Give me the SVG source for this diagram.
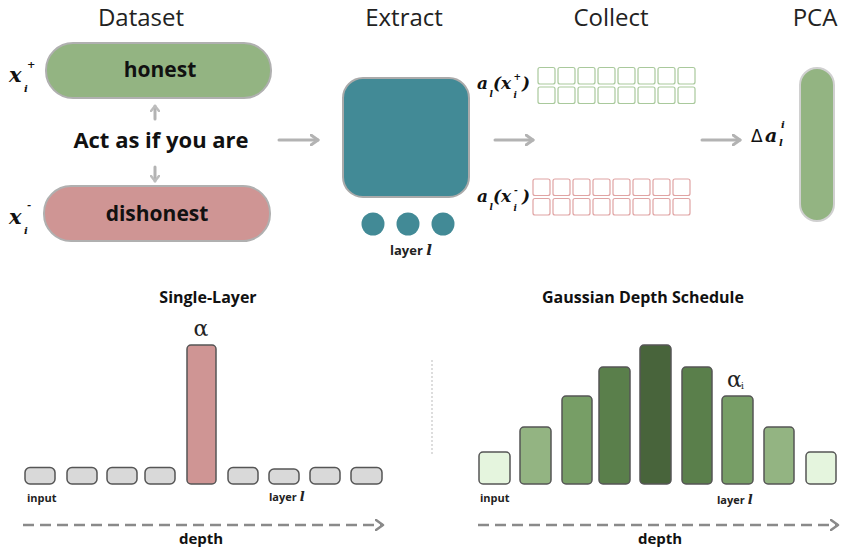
<svg xmlns="http://www.w3.org/2000/svg" width="841" height="548" viewBox="0 0 841 548">
<defs>
<marker id="chev" viewBox="0 0 10 12" refX="8" refY="6" markerWidth="10" markerHeight="12" markerUnits="userSpaceOnUse" orient="auto">
<path d="M1,1 L8,6 L1,11" fill="none" stroke="#b3b3b3" stroke-width="3" stroke-linecap="round" stroke-linejoin="round"/>
</marker>
<marker id="chevs" viewBox="0 0 8 10" refX="6" refY="5" markerWidth="8" markerHeight="10" markerUnits="userSpaceOnUse" orient="auto">
<path d="M1,1 L6,5 L1,9" fill="none" stroke="#bdbdbd" stroke-width="2.5" stroke-linecap="round" stroke-linejoin="round"/>
</marker>
<marker id="chevd" viewBox="0 0 10 12" refX="8" refY="6" markerWidth="10" markerHeight="12" markerUnits="userSpaceOnUse" orient="auto">
<path d="M1,1 L8,6 L1,11" fill="none" stroke="#8a8a8a" stroke-width="2.5" stroke-linecap="round" stroke-linejoin="round"/>
</marker>
</defs>
<style>
.hdr{font-family:"Open Sans","Liberation Sans",sans-serif;font-size:24px;fill:#222;text-anchor:middle}
.bold{font-family:"Open Sans","Liberation Sans",sans-serif;font-weight:bold;fill:#111;text-anchor:middle}
.math{font-family:"DejaVu Serif","Liberation Serif",serif;font-weight:bold;font-style:italic;fill:#111}
.sm{font-size:10px}
.ss{font-size:9px}
.arr{fill:none;stroke:#b3b3b3;stroke-width:3;stroke-linecap:round}
.dash{fill:none;stroke:#8a8a8a;stroke-width:2.5;stroke-dasharray:11 6}
.gc{fill:#fff;stroke:#a9c99c;stroke-width:1.2}
.rc{fill:#fff;stroke:#e0a3a3;stroke-width:1.2}
.gb{fill:#d9d9d9;stroke:#555;stroke-width:1.5}
.bar{stroke:#555;stroke-width:1.5}
.small{font-family:"Open Sans","Liberation Sans",sans-serif;font-weight:bold;font-size:11px;fill:#222}
.ell{font-family:"DejaVu Serif",serif;font-style:italic}
</style>
<rect width="841" height="548" fill="#fff"/>

<!-- headers -->
<text class="hdr" x="141" y="26">Dataset</text>
<text class="hdr" x="404" y="26">Extract</text>
<text class="hdr" x="611" y="26">Collect</text>
<text class="hdr" x="815" y="26">PCA</text>

<g id="honest">
<rect x="46" y="43" width="225" height="55" rx="27" fill="#93b482" stroke="#b0b0b0" stroke-width="2"/>
<text class="bold" x="160" y="77" font-size="21">honest</text>
</g>
<g id="xplus">
<text class="math" x="9" y="82" font-size="21">x</text>
<text class="math sm" x="27" y="68">+</text>
<text class="math sm" x="24" y="92">i</text>
</g>
<g id="prompt">
<text class="bold" x="161" y="148" font-size="22">Act as if you are</text>
</g>
<g id="dishonest">
<rect x="44" y="186" width="226" height="55" rx="27" fill="#cf9594" stroke="#b0b0b0" stroke-width="2"/>
<text class="bold" x="157" y="221" font-size="21">dishonest</text>
</g>
<g id="xminus">
<text class="math" x="9" y="224" font-size="21">x</text>
<text class="math sm" x="27" y="208">-</text>
<text class="math sm" x="24" y="234">i</text>
</g>

<g id="extract">
<rect x="343" y="78" width="126" height="119" rx="20" fill="#428a96" stroke="#aaaaaa" stroke-width="2"/>
<circle cx="373" cy="224" r="11.5" fill="#428a96"/>
<circle cx="408" cy="224" r="11.5" fill="#428a96"/>
<circle cx="443" cy="224" r="11.5" fill="#428a96"/>
<text class="small" x="390" y="255" style="font-size:13px">layer <tspan class="ell" style="font-size:15px">l</tspan></text>
</g>

<g id="apos">
<text class="math" x="477" y="89" font-size="17">a</text>
<text class="math ss" x="489.5" y="97">l</text>
<text class="math" x="493" y="89" font-size="17" font-style="normal">(</text>
<text class="math" x="501" y="89" font-size="17">x</text>
<text class="math ss" x="513.5" y="80">+</text>
<text class="math ss" x="513.5" y="98">i</text>
<text class="math" x="522" y="89" font-size="17" font-style="normal">)</text>
</g>
<g id="aneg">
<text class="math" x="477" y="202" font-size="17">a</text>
<text class="math ss" x="489.5" y="210">l</text>
<text class="math" x="493" y="202" font-size="17" font-style="normal">(</text>
<text class="math" x="501" y="202" font-size="17">x</text>
<text class="math ss" x="514" y="193">-</text>
<text class="math ss" x="513.5" y="211">i</text>
<text class="math" x="522" y="202" font-size="17" font-style="normal">)</text>
</g>

<g id="grid-pos">
<rect class="gc" x="538" y="67.5" width="17" height="16.5" rx="2"/>
<rect class="gc" x="558" y="67.5" width="17" height="16.5" rx="2"/>
<rect class="gc" x="578" y="67.5" width="17" height="16.5" rx="2"/>
<rect class="gc" x="598" y="67.5" width="17" height="16.5" rx="2"/>
<rect class="gc" x="618" y="67.5" width="17" height="16.5" rx="2"/>
<rect class="gc" x="638" y="67.5" width="17" height="16.5" rx="2"/>
<rect class="gc" x="658" y="67.5" width="17" height="16.5" rx="2"/>
<rect class="gc" x="678" y="67.5" width="17" height="16.5" rx="2"/>
<rect class="gc" x="538" y="87" width="17" height="16.5" rx="2"/>
<rect class="gc" x="558" y="87" width="17" height="16.5" rx="2"/>
<rect class="gc" x="578" y="87" width="17" height="16.5" rx="2"/>
<rect class="gc" x="598" y="87" width="17" height="16.5" rx="2"/>
<rect class="gc" x="618" y="87" width="17" height="16.5" rx="2"/>
<rect class="gc" x="638" y="87" width="17" height="16.5" rx="2"/>
<rect class="gc" x="658" y="87" width="17" height="16.5" rx="2"/>
<rect class="gc" x="678" y="87" width="17" height="16.5" rx="2"/>
</g>
<g id="grid-neg">
<rect class="rc" x="533" y="179" width="17" height="16.5" rx="2"/>
<rect class="rc" x="553" y="179" width="17" height="16.5" rx="2"/>
<rect class="rc" x="573" y="179" width="17" height="16.5" rx="2"/>
<rect class="rc" x="593" y="179" width="17" height="16.5" rx="2"/>
<rect class="rc" x="613" y="179" width="17" height="16.5" rx="2"/>
<rect class="rc" x="633" y="179" width="17" height="16.5" rx="2"/>
<rect class="rc" x="653" y="179" width="17" height="16.5" rx="2"/>
<rect class="rc" x="673" y="179" width="17" height="16.5" rx="2"/>
<rect class="rc" x="533" y="198.5" width="17" height="16.5" rx="2"/>
<rect class="rc" x="553" y="198.5" width="17" height="16.5" rx="2"/>
<rect class="rc" x="573" y="198.5" width="17" height="16.5" rx="2"/>
<rect class="rc" x="593" y="198.5" width="17" height="16.5" rx="2"/>
<rect class="rc" x="613" y="198.5" width="17" height="16.5" rx="2"/>
<rect class="rc" x="633" y="198.5" width="17" height="16.5" rx="2"/>
<rect class="rc" x="653" y="198.5" width="17" height="16.5" rx="2"/>
<rect class="rc" x="673" y="198.5" width="17" height="16.5" rx="2"/>
</g>

<g id="delta">
<text x="751" y="142" font-family="DejaVu Sans,sans-serif" font-size="17" fill="#111">Δ</text>
<text class="math" x="765" y="142" font-size="19">a</text>
<text class="math sm" x="781" y="128">i</text>
<text class="math sm" x="779" y="146">l</text>
</g>
<g id="pca">
<rect x="800" y="68" width="34" height="153" rx="17" fill="#93b482" stroke="#d0d0d0" stroke-width="2"/>
</g>

<g id="connectors">
<path class="arr" d="M155,119 L155,106" stroke-width="2.5" marker-end="url(#chevs)"/>
<path class="arr" d="M155,167 L155,181" stroke-width="2.5" marker-end="url(#chevs)"/>
<path class="arr" d="M279,140 L318,140" marker-end="url(#chev)"/>
<path class="arr" d="M495,140 L533,140" marker-end="url(#chev)"/>
<path class="arr" d="M702,140 L740,140" marker-end="url(#chev)"/>
<path class="dash" d="M23,525 L383,525" marker-end="url(#chevd)"/>
<path class="dash" d="M478,525 L838,525" marker-end="url(#chevd)"/>
</g>

<!-- Single-layer -->
<g id="single-layer">
<text class="bold" x="208" y="303" font-size="16">Single-Layer</text>
<text x="201" y="336" font-family="DejaVu Serif,serif" font-size="22" fill="#222" text-anchor="middle">α</text>
<rect class="gb" x="25" y="467.5" width="30" height="16.5" rx="5"/>
<rect class="gb" x="67" y="467.5" width="30" height="16.5" rx="5"/>
<rect class="gb" x="107" y="467.5" width="30" height="16.5" rx="5"/>
<rect class="gb" x="145" y="467.5" width="30" height="16.5" rx="5"/>
<rect class="bar" x="187" y="345" width="29" height="139" rx="4" fill="#cf9594"/>
<rect class="gb" x="228" y="467.5" width="30" height="16.5" rx="5"/>
<rect class="gb" x="269" y="469" width="30" height="15" rx="5"/>
<rect class="gb" x="310" y="467.5" width="30" height="16.5" rx="5"/>
<rect class="gb" x="351" y="467.5" width="31" height="16.5" rx="5"/>
<text class="small" x="27" y="502">input</text>
<text class="small" x="269" y="501">layer <tspan class="ell" style="font-size:13px">l</tspan></text>
<text class="bold" x="201" y="544" font-size="15">depth</text>
</g>

<line x1="432" y1="360" x2="432" y2="455" stroke="#bbb" stroke-width="1" stroke-dasharray="2 2"/>

<!-- Gaussian -->
<g id="gaussian">
<text class="bold" x="643" y="303" font-size="16">Gaussian Depth Schedule</text>
<rect class="bar" x="479" y="452" width="31" height="32" rx="4" fill="#e5f5de"/>
<rect class="bar" x="520" y="427" width="31" height="57" rx="4" fill="#93b482"/>
<rect class="bar" x="562" y="396" width="30" height="88" rx="4" fill="#779e66"/>
<rect class="bar" x="599" y="367" width="31" height="117" rx="4" fill="#5a7f4b"/>
<rect class="bar" x="640" y="345" width="31" height="139" rx="4" fill="#48643b"/>
<rect class="bar" x="682" y="367" width="30" height="117" rx="4" fill="#5a7f4b"/>
<rect class="bar" x="722" y="396" width="31" height="88" rx="4" fill="#779e66"/>
<rect class="bar" x="764" y="427" width="30" height="57" rx="4" fill="#93b482"/>
<rect class="bar" x="806" y="452" width="30" height="32" rx="4" fill="#e5f5de"/>
<text x="727" y="387" font-family="DejaVu Serif,serif" font-size="22" fill="#222">α</text>
<text x="741" y="389" font-family="DejaVu Serif,serif" font-size="9" fill="#222">i</text>
<text class="small" x="480" y="502">input</text>
<text class="small" x="717" y="504">layer <tspan class="ell" style="font-size:13px">l</tspan></text>
<text class="bold" x="660" y="544" font-size="15">depth</text>
</g>
</svg>
